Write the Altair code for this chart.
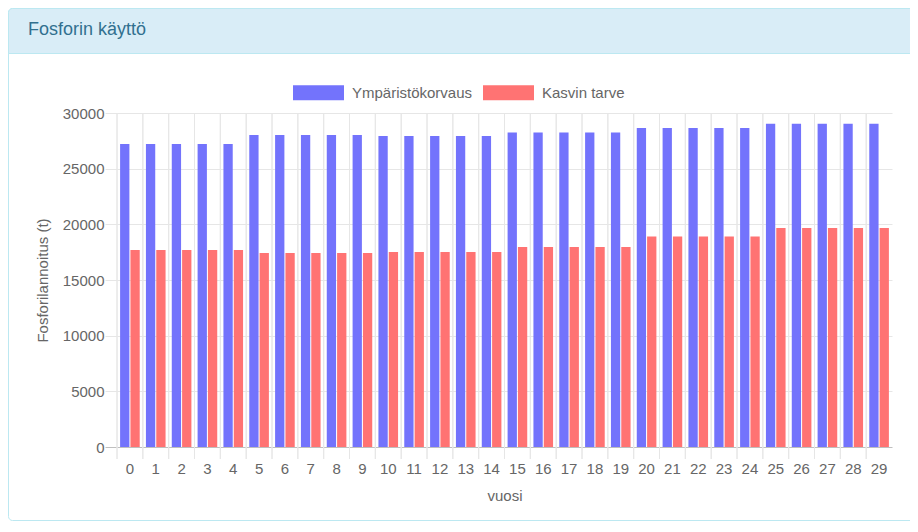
import altair as alt
import pandas as pd

years = list(range(30))
ymparisto = [27215, 27215, 27215, 27215, 27215,
             28024, 28024, 28024, 28024, 28024,
             27934, 27934, 27934, 27934, 27934,
             28250, 28250, 28250, 28250, 28250,
             28653, 28653, 28653, 28653, 28653,
             29039, 29039, 29039, 29039, 29039]
kasvi = [17695, 17695, 17695, 17695, 17695,
         17425, 17425, 17425, 17425, 17425,
         17515, 17515, 17515, 17515, 17515,
         17964, 17964, 17964, 17964, 17964,
         18900, 18900, 18900, 18900, 18900,
         19671, 19671, 19671, 19671, 19671]
series_names = ["Ympäristökorvaus", "Kasvin tarve"]
series_colors = ["#7373fc", "#ff7373"]
title_text = "Fosforin käyttö"
y_ticks = [0, 5000, 10000, 15000, 20000, 25000, 30000]

rows = []
for i, yr in enumerate(years):
    rows.append({"vuosi": yr, "sarja": series_names[0], "arvo": ymparisto[i]})
    rows.append({"vuosi": yr, "sarja": series_names[1], "arvo": kasvi[i]})
df = pd.DataFrame(rows)
one = pd.DataFrame({"t": [title_text]})

FONT = "Liberation Sans, Arial, Helvetica, sans-serif"
W, H = 775, 334

panel = alt.Chart(one).mark_rect(filled=False, stroke="#bce8f1", strokeWidth=1,
                                 cornerRadius=4).encode(
    x=alt.value(-108.5), x2=alt.value(W + 40), y=alt.value(-104.5), y2=alt.value(407.5))
header = alt.Chart(one).mark_rect(fill="#d9edf7", stroke="#bce8f1", strokeWidth=1,
                                  cornerRadiusTopLeft=4).encode(
    x=alt.value(-108.5), x2=alt.value(W + 40), y=alt.value(-104.5), y2=alt.value(-59.5))
title = alt.Chart(one).mark_text(align="left", baseline="alphabetic", fontSize=18,
                                 font=FONT, color="#31708f").encode(
    x=alt.value(-89), y=alt.value(-78), text="t:N")

xscale = alt.Scale(paddingInner=0, paddingOuter=0)

vgrid = alt.Chart(df).mark_rule(color="#e6e6e6", strokeWidth=1).encode(
    x=alt.X("vuosi:O", bandPosition=0, scale=xscale, sort=years),
    y=alt.value(0), y2=alt.value(H + 12))

bars = alt.Chart(df).mark_bar().encode(
    x=alt.X("vuosi:O", scale=xscale, sort=years,
            axis=alt.Axis(title="vuosi", labelAngle=0, labelFontSize=15, labelColor="#666",
                          labelFont=FONT, grid=False, domain=False, ticks=True,
                          bandPosition=0.5, labelAlign="center",
                          tickSize=12, tickOpacity=0, labelPadding=2,
                          titleFontSize=15, titleColor="#666", titleFont=FONT,
                          titleFontWeight="normal", titleBaseline="alphabetic",
                          titleY=53)),
    xOffset=alt.XOffset("sarja:N", sort=series_names,
                        scale=alt.Scale(paddingInner=0.1, paddingOuter=0.3)),
    y=alt.Y("arvo:Q", scale=alt.Scale(domain=[0, 30000], nice=False),
            axis=alt.Axis(title="Fosforilannoitus (t)", values=y_ticks, format="d",
                          labelFontSize=15, labelColor="#666", labelFont=FONT,
                          labelPadding=1, tickSize=12, domain=False,
                          gridColor={"condition": {"test": "datum.value === 0", "value": "#bfbfbf"},
                                     "value": "#e6e6e6"},
                          tickColor={"condition": {"test": "datum.value === 0", "value": "#bfbfbf"},
                                     "value": "#e6e6e6"},
                          titleFontSize=15, titleColor="#666", titleFont=FONT,
                          titleFontWeight="normal", titleBaseline="alphabetic",
                          titleX=-70)),
    color=alt.Color("sarja:N", scale=alt.Scale(domain=series_names, range=series_colors),
                    legend=alt.Legend(title=None, orient="none", direction="horizontal",
                                      legendX=176, legendY=-46,
                                      symbolType="M-1,-0.294L1,-0.294L1,0.294L-1,0.294Z",
                                      symbolSize=2601, symbolStrokeWidth=0,
                                      labelFontSize=15, labelColor="#666", labelFont=FONT,
                                      labelOffset=8, columnPadding=10, padding=0)),
)

chart = alt.layer(bars, panel, header, title, vgrid).properties(
    width=W, height=H,
    autosize=alt.AutoSizeParams(type="none"),
    padding={"left": 109, "top": 105, "right": 18, "bottom": 75},
    background="white",
).configure_view(stroke=None)

chart.save("out.html", embed_options={"renderer": "svg", "actions": False})
